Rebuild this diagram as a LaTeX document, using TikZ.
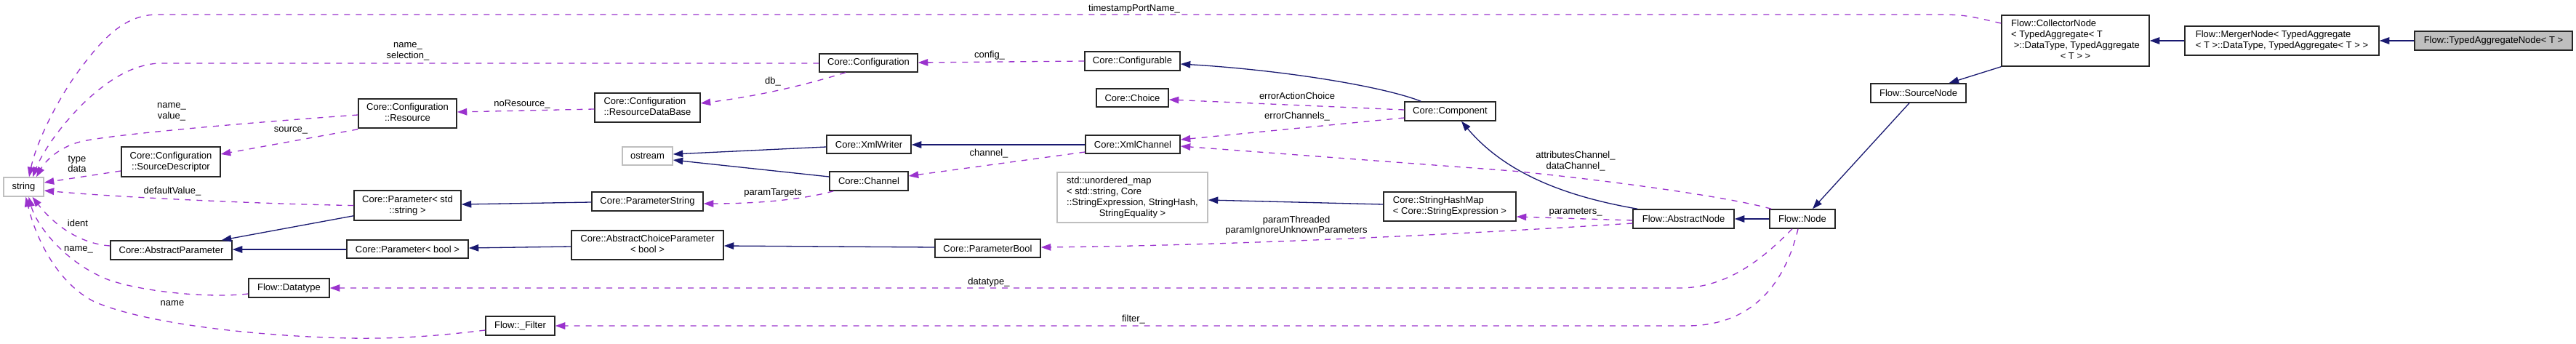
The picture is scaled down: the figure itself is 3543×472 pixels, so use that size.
\documentclass[tikz,border=0pt]{standalone}
\usepackage{fontspec}
\setmainfont{Liberation Sans}
\usetikzlibrary{arrows.meta,calc}
\definecolor{navy}{HTML}{191970}
\definecolor{purp}{HTML}{9A32CD}
\definecolor{lgray}{HTML}{BFBFBF}
\newcommand{\mlines}[1]{\begin{tabular}{@{}l@{}}#1\end{tabular}}
\newcommand{\lastc}[1]{\multicolumn{1}{@{}c@{}}{#1}}
\begin{document}
\begin{tikzpicture}[x=1pt,y=-1pt,
  font=\fontsize{13}{15}\selectfont,
  box/.style={draw=black!85, line width=1.5pt, inner sep=0pt, fill=white},
  gbox/.style={draw=lgray, line width=1.5pt, inner sep=0pt, fill=white},
  lbl/.style={inner sep=0pt, align=center, font=\fontsize{13}{14.5}\selectfont},
  inh/.style={draw=navy, line width=1.3pt, -{Triangle[length=13.5pt,width=9.5pt]}},
  use/.style={draw=purp, line width=1.3pt, dash pattern=on 8pt off 8pt, -{Triangle[length=13.5pt,width=9.5pt]}},
]
\useasboundingbox (0,0) rectangle (3543,472);

% nodes
\node[gbox, minimum width=55pt, minimum height=26pt] (str) at (32.5,257) {string};
\node[box, minimum width=136pt, minimum height=41pt] (srcdesc) at (235,222.5) {\mlines{Core::Configuration\\\lastc{::SourceDescriptor}}};
\node[box, minimum width=135pt, minimum height=40pt] (res) at (560.5,156) {\mlines{Core::Configuration\\\lastc{::Resource}}};
\node[box, minimum width=147pt, minimum height=41pt] (pstd) at (560.5,282.5) {\mlines{Core::Parameter< std\\\lastc{::string >}}};
\node[box, minimum width=167pt, minimum height=26pt] (absp) at (235.5,344) {Core::AbstractParameter};
\node[box, minimum width=167pt, minimum height=25pt] (pbool) at (560.5,342.5) {Core::Parameter< bool >};
\node[box, minimum width=111pt, minimum height=26pt] (dtype) at (397.5,396) {Flow::Datatype};
\node[box, minimum width=95pt, minimum height=26pt] (filt) at (715.5,448) {Flow::\_Filter};
\node[box, minimum width=145pt, minimum height=40pt] (rdb) at (890.5,148) {\mlines{Core::Configuration\\\lastc{::ResourceDataBase}}};
\node[gbox, minimum width=69pt, minimum height=25pt] (ostr) at (890.5,214.5) {ostream};
\node[box, minimum width=153pt, minimum height=26pt] (pstr) at (890.5,277) {Core::ParameterString};
\node[box, minimum width=209pt, minimum height=40pt] (acp) at (890.5,337) {\mlines{Core::AbstractChoiceParameter\\\lastc{< bool >}}};
\node[box, minimum width=135pt, minimum height=25pt] (conf) at (1194.5,86.5) {Core::Configuration};
\node[box, minimum width=116pt, minimum height=25pt] (xmlw) at (1195,198.5) {Core::XmlWriter};
\node[box, minimum width=108pt, minimum height=26pt] (chan) at (1195,249) {Core::Channel};
\node[box, minimum width=145pt, minimum height=25pt] (parb) at (1358.5,341.5) {Core::ParameterBool};
\node[box, minimum width=131pt, minimum height=26pt] (cfgb) at (1557.5,84) {Core::Configurable};
\node[box, minimum width=99pt, minimum height=25pt] (choice) at (1557.5,134.5) {Core::Choice};
\node[box, minimum width=130pt, minimum height=25pt] (xmlc) at (1558,198.5) {Core::XmlChannel};
\node[gbox, minimum width=207pt, minimum height=69pt] (umap) at (1557.5,271.5) {\mlines{std::unordered\_map\\< std::string, Core\\::StringExpression, StringHash,\\\lastc{StringEquality >}}};
\node[box, minimum width=125pt, minimum height=26pt] (comp) at (1994.5,153) {Core::Component};
\node[box, minimum width=182pt, minimum height=40pt] (shm) at (1994,284) {\mlines{Core::StringHashMap\\\lastc{< Core::StringExpression >}}};
\node[box, minimum width=139pt, minimum height=26pt] (absn) at (2315.5,301) {Flow::AbstractNode};
\node[box, minimum width=90pt, minimum height=26pt] (fnode) at (2479,301) {Flow::Node};
\node[box, minimum width=131pt, minimum height=26pt] (srcn) at (2638.5,128) {Flow::SourceNode};
\node[box, minimum width=203pt, minimum height=70pt] (coll) at (2854.5,56) {\mlines{Flow::CollectorNode\\< TypedAggregate< T\\\ >::DataType, TypedAggregate\\\lastc{< T > >}}};
\node[box, minimum width=267pt, minimum height=40pt] (merg) at (3138.5,56) {\mlines{Flow::MergerNode< TypedAggregate\\\lastc{< T >::DataType, TypedAggregate< T > >}}};
\node[box, fill=lgray, minimum width=217pt, minimum height=26pt] (tan) at (3429.5,56) {Flow::TypedAggregateNode< T >};

% inheritance edges
\draw[inh] ($(pstd.south west)+(0,-7)$) -- ($(absp.north east)+(-15,0)$);
\draw[inh] ($(pbool.west)+(0,0.5)$) -- ($(absp.east)+(0,-1)$);
\draw[inh] ($(pstr.west)+(0,1)$) -- ($(pstd.east)+(0,-1.5)$);
\draw[inh] ($(acp.west)+(0,2)$) -- ($(pbool.east)+(0,-1.5)$);
\draw[inh] ($(parb.west)+(0,-1.5)$) -- ($(acp.east)+(0,1)$);
\draw[inh] ($(xmlw.west)+(0,3.5)$) -- ($(ostr.east)+(0,-2.5)$);
\draw[inh] ($(chan.west)+(0,-6)$) -- ($(ostr.east)+(0,5.5)$);
\draw[inh] ($(xmlc.west)+(0,0.5)$) -- ($(xmlw.east)+(0,0.5)$);
\draw[inh] ($(shm.west)+(0,-3)$) -- ($(umap.east)+(0,3.5)$);
\draw[inh] ($(comp.north west)+(23,0)$) .. controls (1900,118) and (1760,96) .. ($(cfgb.east)+(0,4)$);
\draw[inh] ($(absn.north west)+(7,0)$) .. controls (2140,268) and (2065,232) .. ($(comp.south)+(15.5,0)$);
\draw[inh] (fnode.west) -- (absn.east);
\draw[inh] ($(srcn.south)+(-12.5,0)$) -- ($(fnode.north)+(14,0)$);
\draw[inh] (coll.south west) -- ($(srcn.north)+(42,0)$);
\draw[inh] (merg.west) -- (coll.east);
\draw[inh] (tan.west) -- (merg.east);

% usage edges
\draw[use] ($(coll.west)+(0,-24)$) .. controls (2700,20) .. (2651,20) -- (217,20) .. controls (170,20) and (140,55) .. (110,95) .. controls (80,135) and (50,195) .. ($(str.north)+(7.5,0)$);
\draw[use] ($(conf.west)+(0,0.5)$) -- (217,87) .. controls (180,90) and (150,110) .. (120,137) .. controls (90,165) and (60,205) .. ($(str.north)+(12.5,0)$);
\draw[use] ($(res.west)+(0,2)$) .. controls (350,168) and (150,185) .. (110,195) .. controls (80,203) and (62,222) .. ($(str.north)+(17.5,0)$);
\draw[use] ($(res.south west)+(0,1)$) -- ($(srcdesc.east)+(0,-10.5)$);
\draw[use] ($(srcdesc.west)+(0,12.5)$) -- ($(str.east)+(0,-6)$);
\draw[use] (pstd.west) .. controls (380,281) and (170,272) .. ($(str.east)+(0,5)$);
\draw[use] ($(absp.west)+(0,-6)$) .. controls (110,335) and (75,310) .. ($(str.south)+(12,0)$);
\draw[use] ($(dtype.west)+(0,8)$) .. controls (290,410) and (200,402) .. (150,385) .. controls (90,362) and (50,310) .. ($(str.south)+(7,0)$);
\draw[use] ($(filt.west)+(0,6)$) .. controls (600,462) and (550,466) .. (480,465) .. controls (350,462) and (200,445) .. (130,415) .. controls (80,390) and (50,330) .. ($(str.south)+(3,0)$);
\draw[use] ($(rdb.west)+(0,2)$) -- ($(res.east)+(0,-2)$);
\draw[use] ($(conf.south)+(-31.5,0)$) .. controls (1130,110) and (1060,130) .. ($(rdb.east)+(0,-6)$);
\draw[use] (cfgb.west) -- ($(conf.east)+(0,-0.5)$);
\draw[use] ($(comp.west)+(0,-2)$) -- ($(choice.east)+(0,2.5)$);
\draw[use] ($(comp.west)+(0,9)$) -- ($(xmlc.east)+(0,-6.5)$);
\draw[use] ($(fnode.north west)+(3,0)$) .. controls (2390,274) and (2250,252) .. (2080,235) -- ($(xmlc.east)+(0,2.5)$);
\draw[use] ($(xmlc.west)+(0,10.5)$) -- ($(chan.east)+(0,-7)$);
\draw[use] ($(chan.south west)+(6,0)$) .. controls (1110,273) and (1050,280) .. ($(pstr.east)+(0,3)$);
\draw[use] ($(absn.west)+(0,6)$) .. controls (1950,326) and (1650,338) .. ($(parb.east)+(0,-1.5)$);
\draw[use] ($(absn.west)+(0,2)$) -- ($(shm.east)+(0,14)$);
\draw[use] ($(fnode.south)+(-14,0)$) .. controls (2430,350) and (2380,396) .. (2310,396) -- (dtype.east);
\draw[use] ($(fnode.south)+(-6,0)$) .. controls (2455,390) and (2410,448) .. (2320,448) -- (filt.east);

% edge labels
\node[lbl] (l1) at (1560,12) {timestampPortName\_};
\node[lbl] (l2) at (561,71) {name\_\\selection\_};
\node[lbl] (l3) at (236,154) {name\_\\value\_};
\node[lbl] (l4) at (400,179) {source\_};
\node[lbl] (l5) at (106,225.5) {type\\data};
\node[lbl] (l6) at (237,263) {defaultValue\_};
\node[lbl] (l7) at (107,307) {ident};
\node[lbl] (l8) at (108,343) {name\_};
\node[lbl] (l9) at (237,417) {name};
\node[lbl] (l10) at (718,143) {noResource\_};
\node[lbl] (l11) at (1063,112) {db\_};
\node[lbl] (l12) at (1361,76) {config\_};
\node[lbl] (l13) at (1784,132) {errorActionChoice};
\node[lbl] (l14) at (1784,160) {errorChannels\_};
\node[lbl] (l15) at (2167,221.5) {attributesChannel\_\\dataChannel\_};
\node[lbl] (l16) at (1360,211) {channel\_};
\node[lbl] (l17) at (1063,265) {paramTargets};
\node[lbl] (l18) at (1783,310) {paramThreaded\\paramIgnoreUnknownParameters};
\node[lbl] (l19) at (2167,292) {parameters\_};
\node[lbl] (l20) at (1360,388) {datatype\_};
\node[lbl] (l21) at (1559,439) {filter\_};
\end{tikzpicture}
\end{document}
